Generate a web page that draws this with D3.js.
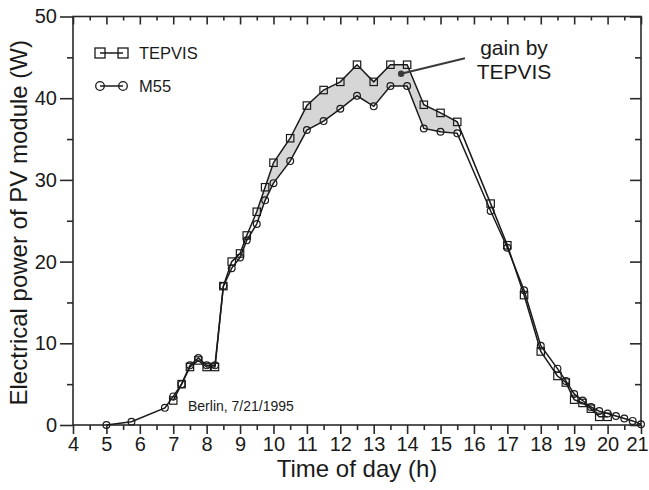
<!DOCTYPE html>
<html>
<head>
<meta charset="utf-8">
<script src="https://cdn.jsdelivr.net/npm/d3@7"></script>
<style>
  body { margin: 0; background: #fff; }
  text { font-family: "Liberation Sans", Arial, sans-serif; fill: #1a1a1a; }
</style>
</head>
<body>
<div id="chart"></div>
<script>
// Data (time in h, power in W)
const m55Time = [5, 5.75, 6.75, 7, 7.25, 7.5, 7.75, 8, 8.25, 8.5, 8.75, 9, 9.2, 9.5, 9.75, 10, 10.5, 11, 11.5, 12, 12.5, 13, 13.5, 14, 14.5, 15, 15.5, 16.5, 17, 17.5, 18, 18.5, 18.75, 19, 19.25, 19.5, 19.75, 20, 20.25, 20.5, 20.75, 21]
const m55Power = [0, 0.4, 2.1, 3.5, 5.0, 7.3, 8.2, 7.3, 7.3, 17.0, 19.2, 20.5, 22.6, 24.6, 27.5, 29.6, 32.3, 36.1, 37.2, 38.7, 40.3, 39.0, 41.5, 41.5, 36.3, 35.9, 35.7, 26.2, 21.7, 16.5, 9.7, 6.9, 5.4, 3.8, 3.0, 2.2, 1.7, 1.4, 1.1, 0.8, 0.5, 0.1]

const tepvisTime = [7, 7.25, 7.5, 7.75, 8, 8.25, 8.5, 8.75, 9, 9.2, 9.5, 9.75, 10, 10.5, 11, 11.5, 12, 12.5, 13, 13.5, 14, 14.5, 15, 15.5, 16.5, 17, 17.5, 18, 18.5, 18.75, 19, 19.25, 19.5, 19.75, 20]
const tepvisPower = [3.0, 5.0, 7.1, 7.9, 7.1, 7.1, 17.0, 20.0, 21.0, 23.2, 26.1, 29.1, 32.1, 35.1, 39.1, 41.0, 42.0, 44.1, 42.0, 44.1, 44.1, 39.2, 38.2, 37.1, 27.1, 22.0, 15.9, 9.0, 6.0, 5.2, 3.1, 2.7, 2.0, 1.0, 1.0]

const gainRange = [9.5, 15.5]
const gainDot = [13.82, 43.0]
const gainLeaderEnd = [15.73, 44.9]
const gainLabel = ["gain by", "TEPVIS"]

const xMajorTicks = d3.range(4, 22, 1)
const xMinorTicks = d3.range(4.5, 21, 1)
const yMajorTicks = [0, 10, 20, 30, 40, 50]
const yMinorTicks = [5, 15, 25, 35, 45]

const seriesNames = ["TEPVIS", "M55"]

// Layout
const dimensions = {
  width: 649,
  height: 490,
  margin: { top: 16.5, right: 8, bottom: 65, left: 73 },
}
dimensions.boundedWidth = dimensions.width - dimensions.margin.left - dimensions.margin.right
dimensions.boundedHeight = dimensions.height - dimensions.margin.top - dimensions.margin.bottom

const ink = "#1a1a1a"
const axisInk = "#2a2a2a"

const svg = d3.select("#chart")
  .append("svg")
  .attr("width", dimensions.width)
  .attr("height", dimensions.height)

const bounds = svg.append("g")
  .attr("transform", `translate(${dimensions.margin.left},${dimensions.margin.top})`)

// Scales
const xScale = d3.scaleLinear()
  .domain([4, 21])
  .range([0, dimensions.boundedWidth])
const yScale = d3.scaleLinear()
  .domain([0, 50])
  .range([dimensions.boundedHeight, 0])

const m55 = m55Time.map((t, i) => ({ t, p: m55Power[i] }))
const tepvis = tepvisTime.map((t, i) => ({ t, p: tepvisPower[i] }))

// gain area between the two curves
const gainData = tepvis
  .filter(d => d.t >= gainRange[0] && d.t <= gainRange[1])
  .map(d => ({ t: d.t, top: d.p, bottom: m55Power[m55Time.indexOf(d.t)] }))

bounds.append("path")
  .datum(gainData)
  .attr("fill", "#d6d6d6")
  .attr("d", d3.area()
    .x(d => xScale(d.t))
    .y0(d => yScale(d.bottom))
    .y1(d => yScale(d.top))
  )

// Axes
const styleAxis = (g) => {
  g.select(".domain").remove()
  g.selectAll(".tick line").attr("stroke", axisInk).attr("stroke-width", 1.6)
  g.selectAll(".tick text")
    .style("font-size", "20px")
    .attr("fill", ink)
}

const xAxis = bounds.append("g")
  .attr("transform", `translate(0,${dimensions.boundedHeight})`)
  .call(d3.axisBottom(xScale).tickValues(xMajorTicks).tickSize(9).tickPadding(3).tickFormat(d3.format("d")))
  .call(styleAxis)
// keep the last label inside the picture
xAxis.selectAll(".tick text")
  .filter(d => d === 21)
  .attr("dx", -4)

bounds.append("g")
  .attr("transform", `translate(0,${dimensions.boundedHeight})`)
  .call(d3.axisBottom(xScale).tickValues(xMinorTicks).tickSize(5).tickFormat(""))
  .call(styleAxis)
bounds.append("g")
  .call(d3.axisTop(xScale).tickValues(xMajorTicks).tickSize(-8).tickFormat(""))
  .call(styleAxis)
bounds.append("g")
  .call(d3.axisTop(xScale).tickValues(xMinorTicks).tickSize(-4).tickFormat(""))
  .call(styleAxis)

bounds.append("g")
  .call(d3.axisLeft(yScale).tickValues(yMajorTicks).tickSize(13).tickPadding(3))
  .call(styleAxis)
bounds.append("g")
  .call(d3.axisLeft(yScale).tickValues(yMinorTicks).tickSize(6).tickFormat(""))
  .call(styleAxis)
bounds.append("g")
  .attr("transform", `translate(${dimensions.boundedWidth},0)`)
  .call(d3.axisRight(yScale).tickValues(yMajorTicks).tickSize(-11).tickFormat(""))
  .call(styleAxis)
bounds.append("g")
  .attr("transform", `translate(${dimensions.boundedWidth},0)`)
  .call(d3.axisRight(yScale).tickValues(yMinorTicks).tickSize(-6).tickFormat(""))
  .call(styleAxis)

// frame
bounds.append("rect")
  .attr("width", dimensions.boundedWidth)
  .attr("height", dimensions.boundedHeight)
  .attr("fill", "none")
  .attr("stroke", axisInk)
  .attr("stroke-width", 1.6)

// Lines
const line = d3.line()
  .x(d => xScale(d.t))
  .y(d => yScale(d.p))

bounds.append("path")
  .datum(m55)
  .attr("fill", "none")
  .attr("stroke", ink)
  .attr("stroke-width", 1.5)
  .attr("d", line)
bounds.append("path")
  .datum(tepvis)
  .attr("fill", "none")
  .attr("stroke", ink)
  .attr("stroke-width", 1.5)
  .attr("d", line)

// Markers
bounds.append("g")
  .selectAll("circle")
  .data(m55)
  .join("circle")
    .attr("cx", d => xScale(d.t))
    .attr("cy", d => yScale(d.p))
    .attr("r", 3.4)
    .attr("fill", "none")
    .attr("stroke", ink)
    .attr("stroke-width", 1.2)

const sq = 7.4
bounds.append("g")
  .selectAll("rect")
  .data(tepvis)
  .join("rect")
    .attr("x", d => xScale(d.t) - sq / 2)
    .attr("y", d => yScale(d.p) - sq / 2)
    .attr("width", sq)
    .attr("height", sq)
    .attr("fill", "none")
    .attr("stroke", ink)
    .attr("stroke-width", 1.2)

// Annotation
bounds.append("line")
  .attr("x1", xScale(gainDot[0]))
  .attr("y1", yScale(gainDot[1]))
  .attr("x2", xScale(gainLeaderEnd[0]))
  .attr("y2", yScale(gainLeaderEnd[1]))
  .attr("stroke", "#3a3a3a")
  .attr("stroke-width", 2)
bounds.append("circle")
  .attr("cx", xScale(gainDot[0]))
  .attr("cy", yScale(gainDot[1]))
  .attr("r", 3.2)
  .attr("fill", "#3a3a3a")

bounds.append("text")
  .attr("x", 514 - dimensions.margin.left)
  .attr("y", 55 - dimensions.margin.top)
  .attr("text-anchor", "middle")
  .style("font-size", "21px")
  .selectAll("tspan")
  .data(gainLabel)
  .join("tspan")
    .attr("x", 514 - dimensions.margin.left)
    .attr("dy", (d, i) => i === 0 ? 0 : 24)
    .text(d => d)

bounds.append("text")
  .attr("x", 188 - dimensions.margin.left)
  .attr("y", 411 - dimensions.margin.top)
  .style("font-size", "14px")
  .text("Berlin, 7/21/1995")

// Legend
const legend = svg.append("g")
seriesNames.forEach((name, i) => {
  const y = 53 + i * 33
  const row = legend.append("g")
  row.append("line")
    .attr("x1", 100).attr("x2", 123)
    .attr("y1", y).attr("y2", y)
    .attr("stroke", ink).attr("stroke-width", 1.5)
  ;[100, 123].forEach(cx => {
    if (i === 0) {
      row.append("rect")
        .attr("x", cx - 5).attr("y", y - 5)
        .attr("width", 10).attr("height", 10)
        .attr("fill", "none").attr("stroke", ink).attr("stroke-width", 1.3)
    } else {
      row.append("circle")
        .attr("cx", cx).attr("cy", y).attr("r", 4.3)
        .attr("fill", "none").attr("stroke", ink).attr("stroke-width", 1.3)
    }
  })
  row.append("text")
    .attr("x", 139)
    .attr("y", y + 6)
    .style("font-size", "16.5px")
    .text(name)
})

// Axis titles
svg.append("text")
  .attr("x", dimensions.margin.left + dimensions.boundedWidth / 2)
  .attr("y", 477)
  .attr("text-anchor", "middle")
  .style("font-size", "24px")
  .text("Time of day (h)")

svg.append("text")
  .attr("transform", `translate(27,${dimensions.margin.top + dimensions.boundedHeight / 2 + 2}) rotate(-90)`)
  .attr("text-anchor", "middle")
  .style("font-size", "24px")
  .text("Electrical power of PV module (W)")
</script>
</body>
</html>
